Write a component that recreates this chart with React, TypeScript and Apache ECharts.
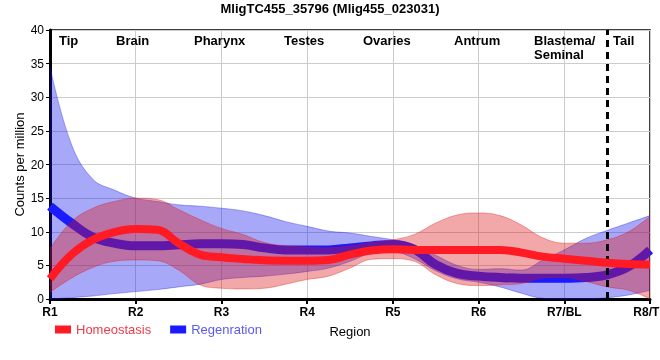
import { useEffect, useRef } from "react";
import * as echarts from "echarts";

// x positions along the body axis (R1 = 0 ... R8/TL = 7), quarter steps
const positions = [
  "0", "0.25", "0.5", "0.75", "1", "1.25", "1.5", "1.75", "2", "2.25", "2.5", "2.75",
  "3", "3.25", "3.5", "3.75", "4", "4.25", "4.5", "4.75", "5", "5.25", "5.5", "5.75",
  "6", "6.25", "6.5", "6.75", "7",
];
const tickLabels = ["R1", "R2", "R3", "R4", "R5", "R6", "R7/BL", "R8/TL"];
const regionNames = ["Tip", "Brain", "Pharynx", "Testes", "Ovaries", "Antrum", "Blastema/\nSeminal", "Tail"];
const yTicks = [0, 40, 5];

const homeoMean = [3.0, 6.6, 8.8, 9.95, 10.4, 10.3, 8.3, 6.6, 6.2, 5.95, 5.75, 5.7, 5.7, 5.8, 6.6, 7.2, 7.4, 7.3, 7.3, 7.3, 7.3, 7.3, 6.9, 6.3, 6.0, 5.7, 5.4, 5.2, 5.1];
const homeoUpper = [7.5, 11.5, 13.5, 14.5, 15.0, 14.8, 13.3, 11.8, 10.5, 9.6, 8.4, 7.9, 7.7, 7.6, 7.9, 8.4, 8.8, 9.6, 11.3, 12.5, 12.8, 12.4, 11.0, 9.1, 8.3, 8.3, 8.8, 10.0, 12.3];
const homeoLower = [1.0, 3.1, 4.7, 5.6, 5.8, 5.7, 4.3, 2.1, 1.6, 1.5, 1.6, 2.2, 2.9, 3.4, 4.6, 5.9, 6.0, 5.6, 3.6, 2.3, 2.0, 2.1, 2.3, 3.1, 3.2, 2.6, 1.8, 1.3, 0.0];

const regenMean = [13.8, 11.3, 9.2, 8.3, 7.9, 7.9, 8.05, 8.2, 8.2, 8.1, 7.6, 7.3, 7.3, 7.3, 7.6, 7.9, 8.1, 7.4, 5.1, 3.8, 3.4, 3.2, 3.1, 3.1, 3.1, 3.2, 3.6, 4.8, 7.3];
const regenUpper = [34.5, 23.0, 17.8, 16.2, 15.0, 14.5, 14.0, 13.8, 13.5, 13.1, 12.4, 11.5, 10.8, 10.1, 9.8, 9.3, 8.8, 8.0, 6.5, 5.0, 4.4, 4.5, 4.3, 5.8, 7.3, 9.0, 10.2, 11.3, 12.4];
const regenLower = [0.0, 0.2, 0.45, 0.8, 1.1, 1.4, 1.8, 2.2, 2.9, 3.2, 3.4, 3.7, 4.1, 4.6, 5.6, 6.8, 7.0, 6.0, 4.2, 3.0, 2.5, 1.8, 0.85, 0.1, 0.0, 0.0, 0.2, 0.6, 1.3];

const dashedAt = "6.5";

const FONT = "'Liberation Sans', Arial, sans-serif";

function bandSeries(key: string, lower: number[], upper: number[], fill: string, edge: string, z: number) {
  return [
    {
      name: key + "_lower",
      type: "line",
      data: lower,
      stack: key,
      smooth: 0.4,
      symbol: "none",
      silent: true,
      z,
      lineStyle: { width: 1, color: edge },
    },
    {
      name: key + "_upper",
      type: "line",
      data: upper.map((u, i) => +(u - lower[i]).toFixed(4)),
      stack: key,
      smooth: 0.4,
      symbol: "none",
      silent: true,
      z,
      lineStyle: { width: 1, color: edge },
      areaStyle: { color: fill, opacity: 1 },
    },
  ];
}

export default function App() {
  const ref = useRef<HTMLDivElement>(null);
  useEffect(() => {
    const chart = echarts.init(ref.current!, null, { renderer: "svg" });
    const isTick = (i: number) => i % 4 === 0;
    const regionX = [59, 116, 194, 284, 363, 454, 534, 613];
    const option: any = {
      animation: false,
      textStyle: { fontFamily: FONT },
      title: {
        text: "MligTC455_35796 (Mlig455_023031)",
        left: "center",
        top: 2,
        padding: 0,
        textStyle: { fontSize: 13, fontWeight: "bold", color: "#000", fontFamily: FONT },
      },
      legend: {
        left: 55,
        top: 323,
        padding: 0,
        icon: "rect",
        itemWidth: 16,
        itemHeight: 8,
        itemGap: 19,
        selectedMode: false,
        textStyle: { fontSize: 13, fontFamily: FONT },
        data: [
          { name: "Homeostasis", textStyle: { color: "#f03a4a" } },
          { name: "Regenration", textStyle: { color: "#5a5af0" } },
        ],
      },
      grid: {
        left: 50,
        right: 10,
        top: 30,
        bottom: 61,
        containLabel: false,
        outerBoundsMode: "none",
        show: true,
        borderColor: "#000",
        borderWidth: 1.5,
        backgroundColor: "transparent",
      },
      xAxis: {
        type: "category",
        data: positions,
        boundaryGap: false,
        name: "Region",
        nameLocation: "middle",
        nameGap: 26,
        nameMoveOverlap: false,
        nameTextStyle: { fontSize: 13, color: "#000", fontFamily: FONT },
        axisLine: { lineStyle: { color: "#000", width: 3 } },
        axisTick: { show: true, interval: isTick, length: 5, lineStyle: { color: "#000", width: 2 } },
        axisLabel: {
          interval: isTick,
          formatter: (_v: string, i: number) => tickLabels[i / 4] ?? "",
          fontSize: 12,
          fontWeight: "bold",
          color: "#000",
          margin: 7,
          hideOverlap: false,
          fontFamily: FONT,
        },
        splitLine: { show: true, interval: isTick, lineStyle: { color: "#cccccc", width: 1 } },
      },
      yAxis: {
        type: "value",
        min: yTicks[0],
        max: yTicks[1],
        interval: yTicks[2],
        name: "Counts per million",
        nameLocation: "middle",
        nameGap: 24,
        nameMoveOverlap: false,
        nameTextStyle: { fontSize: 13, color: "#000", fontFamily: FONT },
        axisLine: { show: true, lineStyle: { color: "#000", width: 3 } },
        axisTick: { show: true, length: 4, lineStyle: { color: "#000", width: 1 } },
        axisLabel: { fontSize: 12, color: "#000", margin: 6, fontFamily: FONT },
        splitLine: { show: true, lineStyle: { color: "#cccccc", width: 1 } },
      },
      graphic: regionNames.map((t, i) => ({
        type: "text",
        x: regionX[i],
        y: 33,
        silent: true,
        z: 10,
        style: {
          text: t,
          fill: "#000",
          font: `bold 13px ${FONT}`,
          lineHeight: 14,
          textVerticalAlign: "top",
        },
      })),
      series: [
        ...bandSeries("regen", regenLower, regenUpper, "rgba(20,20,235,0.37)", "rgba(20,20,235,0.35)", 2),
        {
          name: "Regenration",
          type: "line",
          data: regenMean,
          smooth: 0.4,
          symbol: "none",
          z: 3,
          itemStyle: { color: "#1a1aff" },
          lineStyle: { width: 9, color: "#1a1aff" },
        },
        ...bandSeries("homeo", homeoLower, homeoUpper, "rgba(220,20,20,0.37)", "rgba(220,20,20,0.35)", 4),
        {
          name: "Homeostasis",
          type: "line",
          data: homeoMean,
          smooth: 0.4,
          symbol: "none",
          z: 5,
          itemStyle: { color: "#ff1a24" },
          lineStyle: { width: 8, color: "#ff1a24" },
          markLine: {
            silent: true,
            symbol: "none",
            label: { show: false },
            lineStyle: { color: "#000", width: 3, type: [7, 5] },
            data: [{ xAxis: dashedAt }],
          },
        },
      ],
    };
    chart.setOption(option);
    return () => chart.dispose();
  }, []);
  return <div ref={ref} style={{ position: "fixed", left: 0, top: 0, width: 660, height: 360 }} />;
}
